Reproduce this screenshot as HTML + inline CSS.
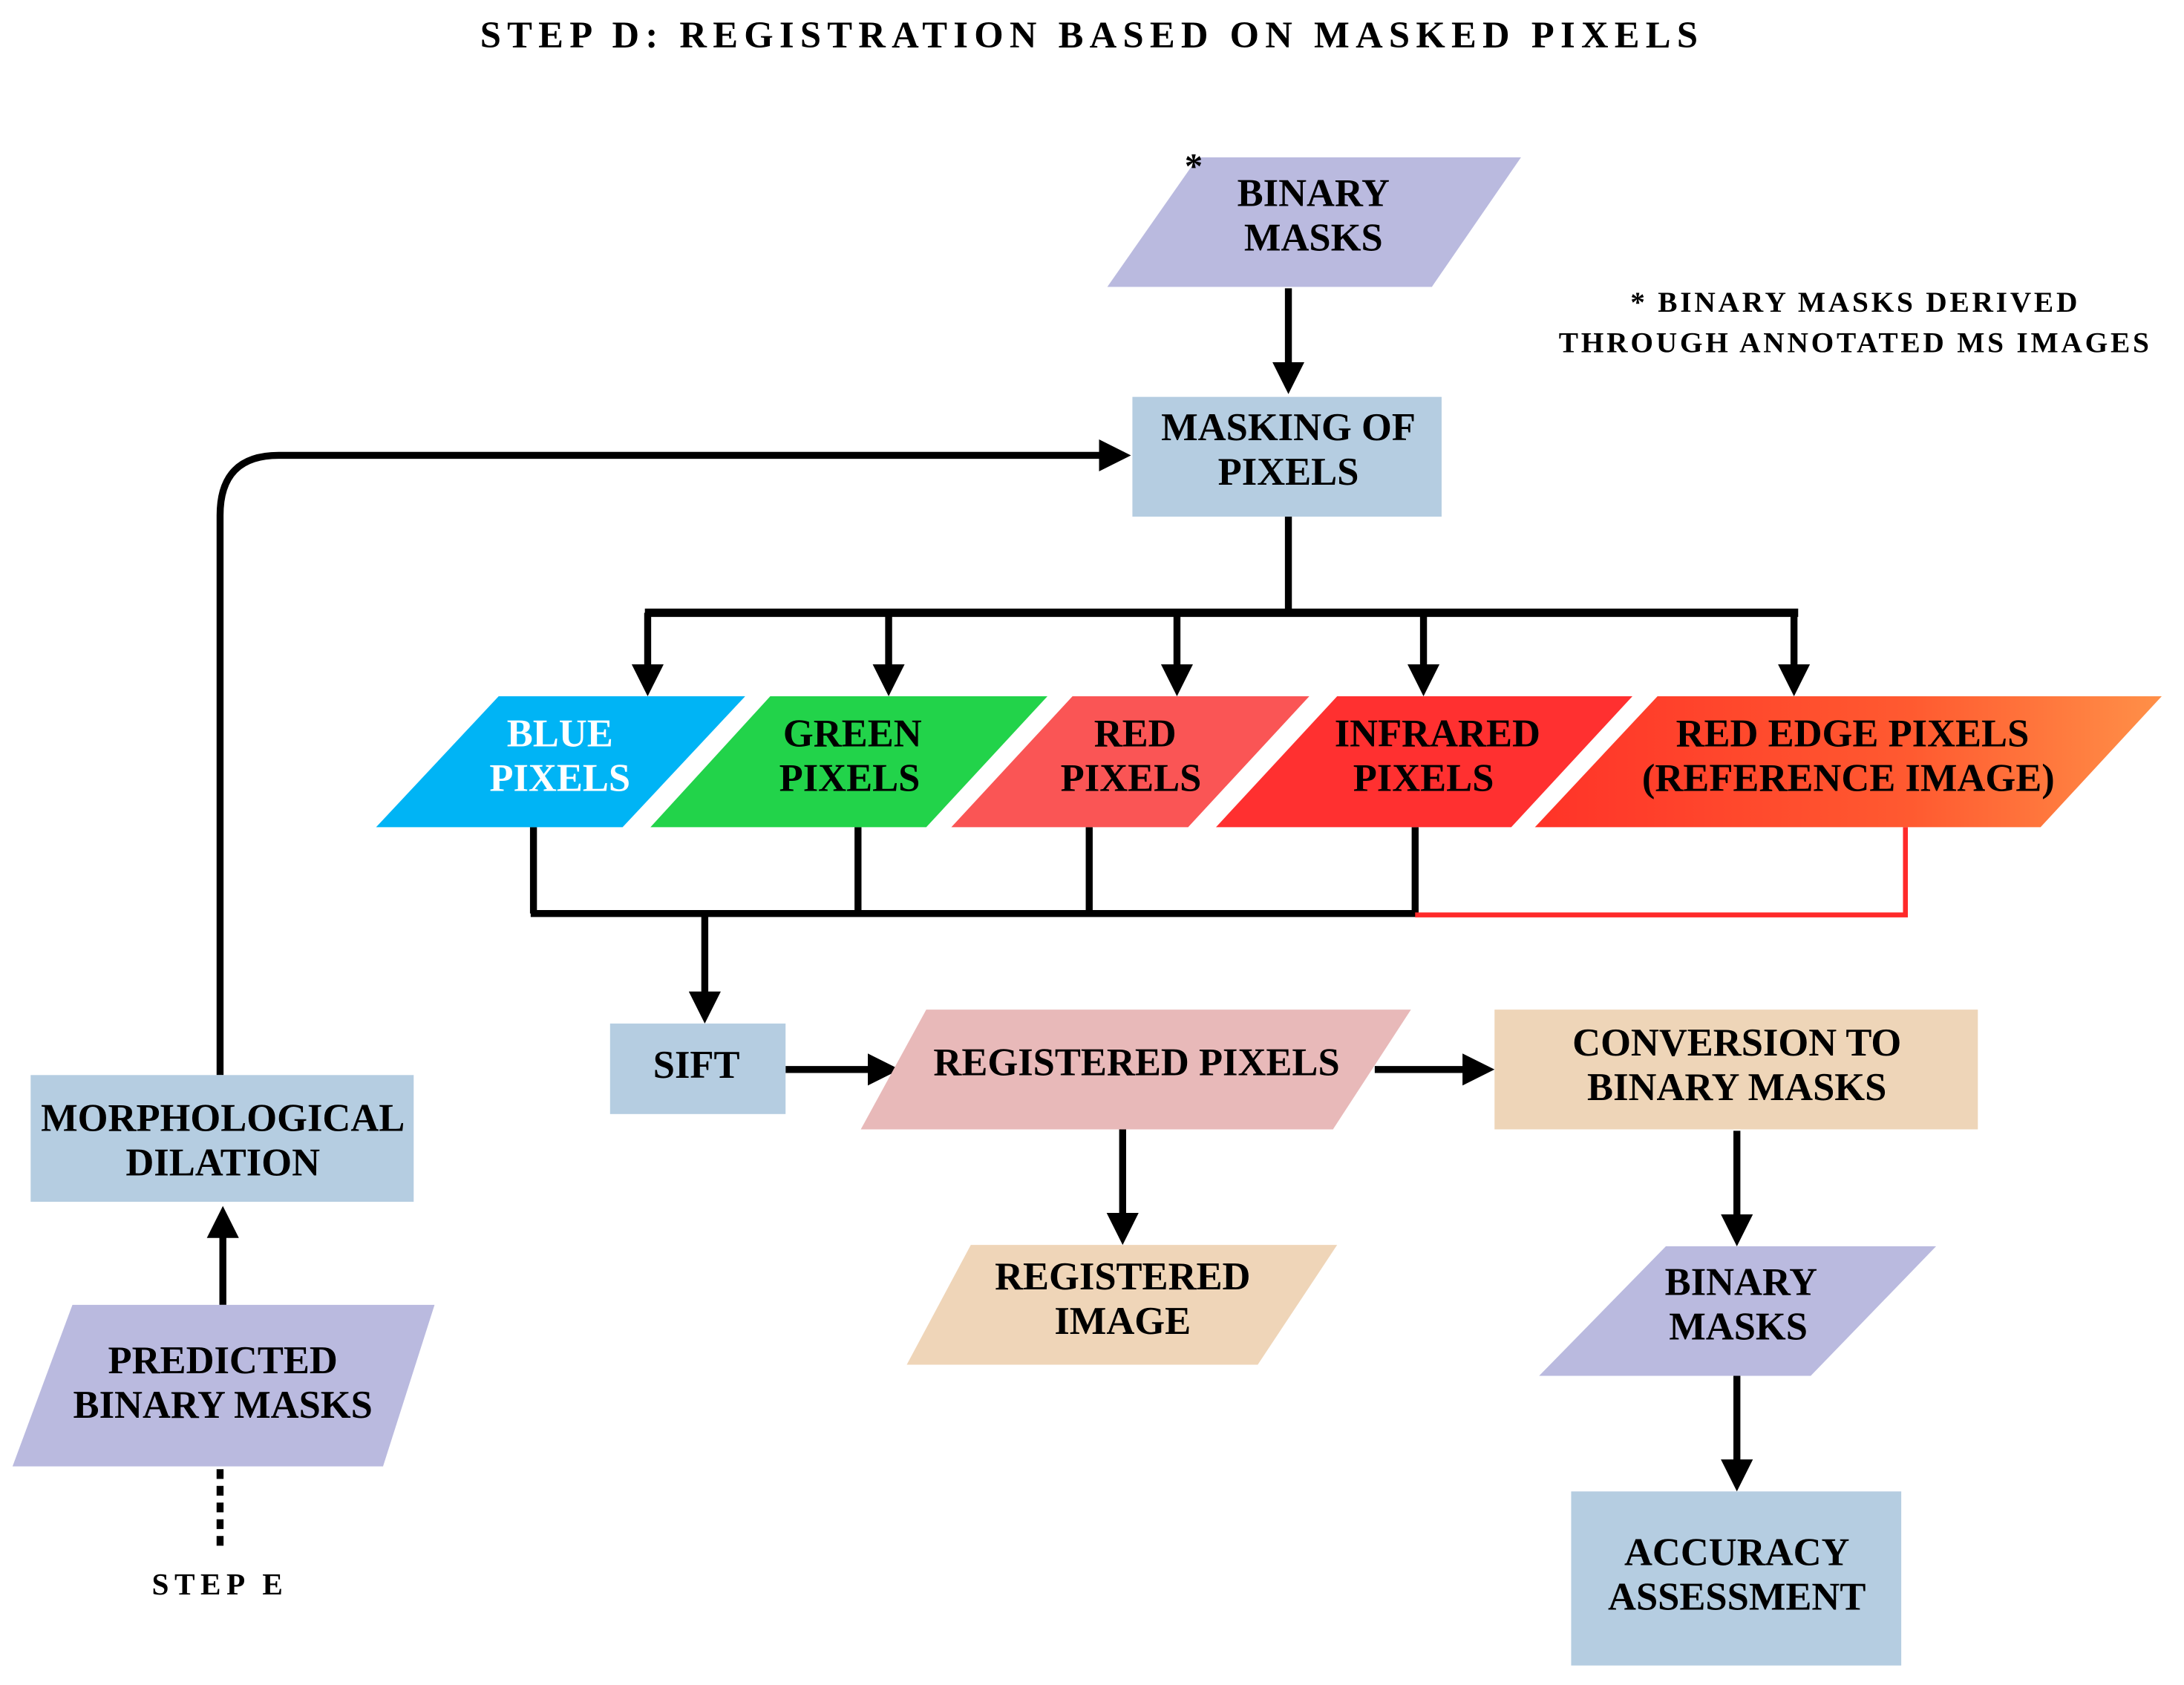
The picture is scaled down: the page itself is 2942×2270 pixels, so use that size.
<!DOCTYPE html>
<html><head><meta charset="utf-8"><style>
html,body{margin:0;padding:0;background:#fff;}
svg{display:block;}
text{font-family:"Liberation Serif",serif;font-weight:bold;text-anchor:middle;}
</style></head><body>
<svg width="2942" height="2270" viewBox="0 0 1568 1210" preserveAspectRatio="none" xmlns="http://www.w3.org/2000/svg">
<defs>
<marker id="ah" markerWidth="4.6" markerHeight="4.6" refX="3.6" refY="2.3" orient="auto" markerUnits="strokeWidth">
<path d="M0,0 L4.6,2.3 L0,4.6 z" fill="#000"/>
</marker>
<linearGradient id="rg" x1="0" x2="1" y1="0" y2="0">
<stop offset="0" stop-color="#ff3328"/><stop offset="0.6" stop-color="#ff5a30"/><stop offset="1" stop-color="#ff9048"/>
</linearGradient>
</defs>
<rect width="1568" height="1210" fill="#fff"/>
<text x="784" y="34" font-size="27" letter-spacing="4.4">STEP D: REGISTRATION BASED ON MASKED PIXELS</text>

<polygon points="860,113 1092,113 1028,206 795,206" fill="#babadf"/>
<text x="857" y="128" font-size="26" font-weight="normal">*</text>
<text x="943" y="148" font-size="28">BINARY</text>
<text x="943" y="180" font-size="28">MASKS</text>
<text x="1332" y="224" font-size="21" letter-spacing="2">* BINARY MASKS DERIVED</text>
<text x="1332" y="253" font-size="21" letter-spacing="2">THROUGH ANNOTATED MS IMAGES</text>

<g stroke="#000" stroke-width="5" fill="none">
<line x1="925" y1="207" x2="925" y2="278" marker-end="url(#ah)"/>
<line x1="925" y1="371" x2="925" y2="440"/>
<line x1="463" y1="440" x2="1291" y2="440" stroke-width="6"/>
<line x1="465" y1="440" x2="465" y2="495" marker-end="url(#ah)"/>
<line x1="638" y1="440" x2="638" y2="495" marker-end="url(#ah)"/>
<line x1="845" y1="440" x2="845" y2="495" marker-end="url(#ah)"/>
<line x1="1022" y1="440" x2="1022" y2="495" marker-end="url(#ah)"/>
<line x1="1288" y1="440" x2="1288" y2="495" marker-end="url(#ah)"/>
<path d="M158,772 L158,370 Q158,327 200,327 L807,327" marker-end="url(#ah)"/>
<line x1="383" y1="594" x2="383" y2="656"/>
<line x1="616" y1="594" x2="616" y2="656"/>
<line x1="782" y1="594" x2="782" y2="656"/>
<line x1="1016" y1="594" x2="1016" y2="656"/>
<line x1="381" y1="656" x2="1018" y2="656"/>
<line x1="506" y1="656" x2="506" y2="730" marker-end="url(#ah)"/>
<line x1="564" y1="768" x2="641" y2="768" marker-end="url(#ah)"/>
<line x1="987" y1="768" x2="1068" y2="768" marker-end="url(#ah)"/>
<line x1="806" y1="811" x2="806" y2="889" marker-end="url(#ah)"/>
<line x1="1247" y1="812" x2="1247" y2="890" marker-end="url(#ah)"/>
<line x1="1247" y1="988" x2="1247" y2="1066" marker-end="url(#ah)"/>
<line x1="160" y1="937" x2="160" y2="871" marker-end="url(#ah)"/>
<line x1="158" y1="1055" x2="158" y2="1112" stroke-dasharray="7,5"/>
</g>
<g stroke="#ff2a2a" stroke-width="3.5" fill="none">
<polyline points="1368,594 1368,657 1016,657"/>
</g>

<rect x="813" y="285" width="222" height="86" fill="#b5cde1"/>
<text x="925" y="316" font-size="28">MASKING OF</text>
<text x="925" y="348" font-size="28">PIXELS</text>

<polygon points="358,500 535,500 447,594 270,594" fill="#00b4f5"/>
<text x="402" y="536" font-size="28" fill="#fff">BLUE</text>
<text x="402" y="568" font-size="28" fill="#fff">PIXELS</text>
<polygon points="553,500 752,500 665,594 467,594" fill="#22d34a"/>
<text x="612" y="536" font-size="28">GREEN</text>
<text x="610" y="568" font-size="28">PIXELS</text>
<polygon points="770,500 940,500 853,594 683,594" fill="#fa5555"/>
<text x="815" y="536" font-size="28">RED</text>
<text x="812" y="568" font-size="28">PIXELS</text>
<polygon points="960,500 1172,500 1085,594 873,594" fill="#ff3030"/>
<text x="1032" y="536" font-size="28">INFRARED</text>
<text x="1022" y="568" font-size="28">PIXELS</text>
<polygon points="1190,500 1552,500 1465,594 1102,594" fill="url(#rg)"/>
<text x="1330" y="536" font-size="28">RED EDGE PIXELS</text>
<text x="1327" y="568" font-size="28">(REFERENCE IMAGE)</text>

<rect x="438" y="735" width="126" height="65" fill="#b5cde1"/>
<text x="500" y="774" font-size="28">SIFT</text>

<polygon points="665,725 1013,725 957,811 618,811" fill="#e8b9b9"/>
<text x="816" y="772" font-size="28">REGISTERED PIXELS</text>

<rect x="1073" y="725" width="347" height="86" fill="#eed5b8"/>
<text x="1247" y="758" font-size="28">CONVERSION TO</text>
<text x="1247" y="790" font-size="28">BINARY MASKS</text>

<polygon points="697,894 960,894 903,980 651,980" fill="#efd5b8"/>
<text x="806" y="926" font-size="28">REGISTERED</text>
<text x="806" y="958" font-size="28">IMAGE</text>

<polygon points="1196,895 1390,895 1300,988 1105,988" fill="#babadf"/>
<text x="1250" y="930" font-size="28">BINARY</text>
<text x="1248" y="962" font-size="28">MASKS</text>

<rect x="1128" y="1071" width="237" height="125" fill="#b5cde1"/>
<text x="1247" y="1124" font-size="28">ACCURACY</text>
<text x="1247" y="1156" font-size="28">ASSESSMENT</text>

<rect x="22" y="772" width="275" height="91" fill="#b5cde1"/>
<text x="160" y="812" font-size="28">MORPHOLOGICAL</text>
<text x="160" y="844" font-size="28">DILATION</text>

<polygon points="52,937 312,937 275,1053 9,1053" fill="#babadf"/>
<text x="160" y="986" font-size="28">PREDICTED</text>
<text x="160" y="1018" font-size="28">BINARY MASKS</text>

<text x="158" y="1145" font-size="22" letter-spacing="4">STEP E</text>
</svg>
</body></html>
